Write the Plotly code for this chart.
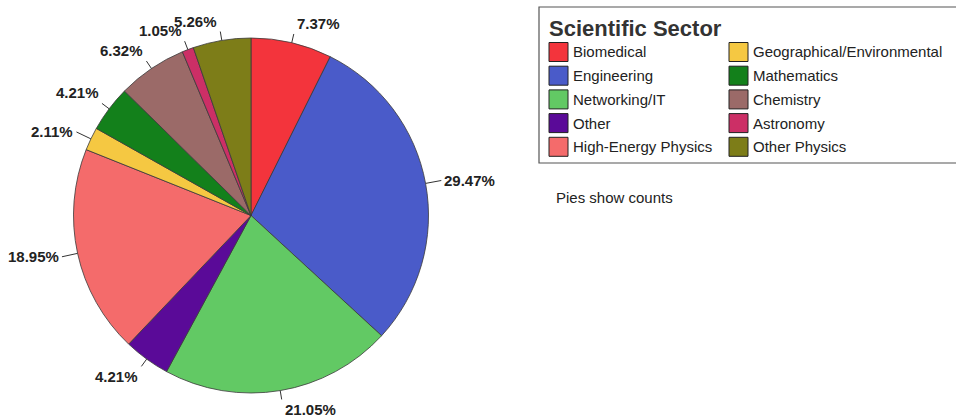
import math
import plotly.graph_objects as go

# Survey responses per scientific sector (counts), clockwise from 12 o'clock
sectors = [
    "Biomedical", "Engineering", "Networking/IT", "Other", "High-Energy Physics",
    "Geographical/Environmental", "Mathematics", "Chemistry", "Astronomy", "Other Physics",
]
counts = [7, 28, 20, 4, 18, 2, 4, 6, 1, 5]
colors = [
    "#F3343C", "#4A5BC9", "#62C964", "#5A0A98", "#F46B6B",
    "#F5C842", "#13801B", "#9B6A68", "#CC2F66", "#7D7D18",
]
# Legend laid out in two columns of five
legend_columns = [sectors[:5], sectors[5:]]

W, H = 956, 418
CX, CY, R = 251.0, 215.5, 177.5  # pie centre and radius in pixels
FONT = "Liberation Sans, Arial, sans-serif"


def px_x(x):
    return x / W


def px_y(y):
    return 1 - y / H


fig = go.Figure()
fig.add_trace(go.Pie(
    labels=sectors,
    values=counts,
    sort=False,
    direction="clockwise",
    rotation=0,
    marker=dict(colors=colors, line=dict(color="#3a3a3a", width=0.8)),
    textinfo="none",
    hoverinfo="label+value+percent",
    showlegend=False,
    domain=dict(x=[px_x(CX - R), px_x(CX + R)], y=[px_y(CY + R), px_y(CY - R)]),
))

shapes = []
annotations = []

# Percentage labels with short radial leader lines
total = sum(counts)
cum = 0
for name, v in zip(sectors, counts):
    mid = (cum + v / 2) / total
    cum += v
    theta = 2 * math.pi * mid
    s, c = math.sin(theta), math.cos(theta)
    ex, ey = CX + R * s, CY - R * c
    lead = 9 if abs(s) < 0.9 else 16
    ox, oy = CX + (R + lead) * s, CY - (R + lead) * c
    shapes.append(dict(type="line", xref="paper", yref="paper",
                       x0=px_x(ex), y0=px_y(ey), x1=px_x(ox), y1=px_y(oy),
                       line=dict(color="#333333", width=1)))
    xanchor = "left" if s > 0 else "right"
    if c > 0.5:
        yanchor = "bottom"
    elif c < -0.5:
        yanchor = "top"
    else:
        yanchor = "middle"
    annotations.append(dict(
        x=px_x(ox + (1 if s > 0 else -1)), y=px_y(oy), xref="paper", yref="paper",
        text=f"<b>{v / total * 100:.2f}%</b>", showarrow=False,
        xanchor=xanchor, yanchor=yanchor,
        font=dict(family=FONT, size=15, color="#222222"),
    ))

# Legend box
LX0, LY0, LX1, LY1 = 539, 7, 960, 163
shapes.append(dict(type="rect", xref="paper", yref="paper",
                   x0=px_x(LX0), y0=px_y(LY1), x1=px_x(LX1), y1=px_y(LY0),
                   line=dict(color="#555555", width=1.2), fillcolor="white", layer="below"))
annotations.append(dict(
    x=px_x(547), y=px_y(29), xref="paper", yref="paper", text="<b>Scientific Sector</b>",
    showarrow=False, xanchor="left", yanchor="middle",
    font=dict(family=FONT, size=22, color="#333333"),
))

col_x = [549, 729]
row_y0, row_dy, sw = 52, 23.7, 19
color_of = dict(zip(sectors, colors))
for ci, col in enumerate(legend_columns):
    for ri, name in enumerate(col):
        yc = row_y0 + ri * row_dy
        x0 = col_x[ci]
        shapes.append(dict(type="rect", xref="paper", yref="paper",
                           x0=px_x(x0), x1=px_x(x0 + sw),
                           y0=px_y(yc + sw / 2), y1=px_y(yc - sw / 2),
                           fillcolor=color_of[name], line=dict(color="#222222", width=1)))
        annotations.append(dict(
            x=px_x(x0 + sw + 3), y=px_y(yc), xref="paper", yref="paper", text=name,
            showarrow=False, xanchor="left", yanchor="middle",
            font=dict(family=FONT, size=15, color="#222222"),
        ))

annotations.append(dict(
    x=px_x(554), y=px_y(197), xref="paper", yref="paper", text="Pies show counts",
    showarrow=False, xanchor="left", yanchor="middle",
    font=dict(family=FONT, size=15, color="#222222"),
))

fig.update_layout(
    width=W, height=H,
    margin=dict(l=0, r=0, t=0, b=0),
    paper_bgcolor="white", plot_bgcolor="white",
    shapes=shapes, annotations=annotations,
    showlegend=False,
)

fig.write_html("out.html")
